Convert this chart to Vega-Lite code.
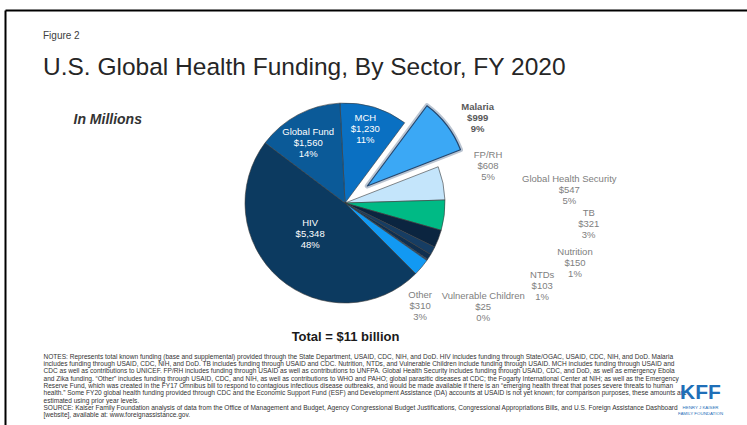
{
  "$schema": "https://vega.github.io/schema/vega-lite/v6.json",
  "autosize": "none",
  "width": 680,
  "height": 386,
  "padding": {"left": 5, "top": 10, "right": 62, "bottom": 29},
  "background": "white",
  "config": {"view": {"stroke": null}, "font": "Liberation Sans"},
  "title": {
    "text": "Figure 2",
    "subtitle": ["", "U.S. Global Health Funding, By Sector, FY 2020"],
    "orient": "none",
    "anchor": "start",
    "frame": "group",
    "baseline": "alphabetic",
    "dx": 38,
    "dy": 29,
    "fontSize": 10,
    "fontWeight": "normal",
    "color": "#404040",
    "subtitleFontSize": 24.5,
    "subtitleLineHeight": 35.5,
    "subtitleColor": "#262626",
    "subtitlePadding": 0
  },
  "data": {
    "values": [
      {"sector": "MCH", "value": 1230, "share": "11%", "rank": 1, "label": "MCH\n$1,230\n11%"},
      {"sector": "Malaria", "value": 999, "share": "9%", "rank": 2, "label": "Malaria\n$999\n9%"},
      {"sector": "FP/RH", "value": 608, "share": "5%", "rank": 3, "label": "FP/RH\n$608\n5%"},
      {"sector": "Global Health Security", "value": 547, "share": "5%", "rank": 4, "label": "Global Health Security\n$547\n5%"},
      {"sector": "TB", "value": 321, "share": "3%", "rank": 5, "label": "TB\n$321\n3%"},
      {"sector": "Nutrition", "value": 150, "share": "1%", "rank": 6, "label": "Nutrition\n$150\n1%"},
      {"sector": "NTDs", "value": 103, "share": "1%", "rank": 7, "label": "NTDs\n$103\n1%"},
      {"sector": "Vulnerable Children", "value": 25, "share": "0%", "rank": 8, "label": "Vulnerable Children\n$25\n0%"},
      {"sector": "Other", "value": 310, "share": "3%", "rank": 9, "label": "Other\n$310\n3%"},
      {"sector": "HIV", "value": 5348, "share": "48%", "rank": 10, "label": "HIV\n$5,348\n48%"},
      {"sector": "Global Fund", "value": 1560, "share": "14%", "rank": 11, "label": "Global Fund\n$1,560\n14%"}
    ]
  },
  "resolve": {"scale": {"x": "independent", "y": "independent"}, "axis": {"x": "independent", "y": "independent"}},
  "layer": [
    {
      "mark": {"type": "point", "opacity": 0},
      "encoding": {
        "x": {"datum": 0, "type": "quantitative", "scale": {"domain": [0, 1], "range": [0, 800]},
          "axis": {"orient": "top", "domainColor": "#000000", "domainWidth": 2, "ticks": false, "labels": false, "grid": false,
            "title": "In Millions", "titleX": 68, "titleY": 113, "titleAlign": "left", "titleAnchor": null, "titleBaseline": "alphabetic",
            "titleFontSize": 14, "titleFontWeight": "bold", "titleFontStyle": "italic", "titleColor": "#333333"}},
        "y": {"datum": 0, "type": "quantitative", "scale": {"domain": [0, 1], "range": [0, 500]},
          "axis": {"orient": "left", "domainColor": "#000000", "domainWidth": 2, "ticks": false, "labels": false, "grid": false,
            "title": "Total = $11 billion", "titleAngle": 0, "titleX": 340, "titleY": 330, "titleAlign": "center", "titleAnchor": null, "titleBaseline": "alphabetic",
            "titleFontSize": 13, "titleFontWeight": "bold", "titleColor": "#1a1a1a"}}
      }
    },
    {
      "mark": {"type": "point", "opacity": 0},
      "encoding": {
        "x": {"datum": 0, "type": "quantitative", "scale": {"domain": [0, 1]},
          "axis": {"orient": "bottom", "domain": false, "ticks": false, "labels": false, "grid": false,
            "title": [
              "NOTES: Represents total known funding (base and supplemental) provided through the State Department, USAID, CDC, NIH, and DoD. HIV includes funding through State/OGAC, USAID, CDC, NIH, and DoD. Malaria",
              "includes funding through USAID, CDC, NIH, and DoD. TB includes funding through USAID and CDC. Nutrition, NTDs, and Vulnerable Children include funding through USAID. MCH includes funding through USAID and",
              "CDC as well as contributions to UNICEF. FP/RH includes funding through USAID as well as contributions to UNFPA. Global Health Security includes funding through USAID, CDC, and DoD, as well as emergency Ebola",
              "and Zika funding. “Other” includes funding through USAID, CDC, and NIH, as well as contributions to WHO and PAHO; global parasitic diseases at CDC; the Fogarty International Center at NIH; as well as the Emergency",
              "Reserve Fund, which was created in the FY17 Omnibus bill to respond to contagious infectious disease outbreaks, and would be made available if there is an “emerging health threat that poses severe threats to human",
              "health.” Some FY20 global health funding provided through CDC and the Economic Support Fund (ESF) and Development Assistance (DA) accounts at USAID is not yet known; for comparison purposes, these amounts are",
              "estimated using prior year levels.",
              "SOURCE: Kaiser Family Foundation analysis of data from the Office of Management and Budget, Agency Congressional Budget Justifications, Congressional Appropriations Bills, and U.S. Foreign Assistance Dashboard",
              "[website], available at: www.foreignassistance.gov."
            ],
            "titleX": 38, "titleY": -43, "titleAlign": "left", "titleAnchor": null, "titleBaseline": "top",
            "titleFontSize": 6.55, "titleFontWeight": "normal", "titleLineHeight": 7.35, "titleColor": "#333333"}}
      }
    },
    {
      "mark": {"type": "point", "opacity": 0},
      "encoding": {
        "y": {"datum": 0, "type": "quantitative", "scale": {"domain": [0, 1]},
          "axis": {"orient": "right", "domain": false, "ticks": false, "grid": false, "values": [0],
            "labelExpr": "['HENRY J KAISER', 'FAMILY FOUNDATION']", "labelPadding": 15, "labelOffset": 11, "labelAlign": "center", "labelBaseline": "middle",
            "labelFontSize": 4.4, "labelLineHeight": 6, "labelColor": "#1f6fb8", "labelOverlap": false, "labelBound": false, "labelFlush": false,
            "title": "KFF", "titleAngle": 0, "titleX": 15, "titleY": 388, "titleAlign": "center", "titleAnchor": null, "titleBaseline": "alphabetic",
            "titleFontSize": 21, "titleFontWeight": "bold", "titleColor": "#1f6fb8"}}
      }
    },
    {
      "mark": {"type": "arc", "radius": 100, "stroke": "#3a3a3a", "strokeWidth": 0.6},
      "encoding": {
        "theta": {"field": "value", "type": "quantitative", "stack": true, "scale": {"range": [-0.0506, 6.2326]}},
        "order": {"field": "rank", "type": "quantitative"},
        "color": {"field": "sector", "type": "nominal", "legend": null,
          "scale": {
            "domain": ["MCH", "Malaria", "FP/RH", "Global Health Security", "TB", "Nutrition", "NTDs", "Vulnerable Children", "Other", "HIV", "Global Fund"],
            "range": ["#0a70c2", "#3ba8f5", "#c4e5fb", "#00ba85", "#0b2540", "#163d63", "#0f2f4f", "#2a4d73", "#1299f3", "#0c3a60", "#0b5a98"]}},
        "opacity": {"condition": {"test": "datum.sector === 'Malaria'", "value": 0}, "value": 1}
      }
    },
    {
      "mark": {"type": "arc", "radius": 100, "xOffset": 22.3, "yOffset": -17, "stroke": "#1c3d66", "strokeWidth": 5, "strokeOpacity": 0.3, "strokeJoin": "round", "fillOpacity": 0},
      "encoding": {
        "theta": {"field": "value", "type": "quantitative", "stack": true, "scale": {"range": [-0.0506, 6.2326]}},
        "order": {"field": "rank", "type": "quantitative"},
        "opacity": {"condition": {"test": "datum.sector === 'Malaria'", "value": 1}, "value": 0}
      }
    },
    {
      "mark": {"type": "arc", "radius": 100, "xOffset": 22.3, "yOffset": -17, "stroke": "#23466e", "strokeWidth": 1.2, "strokeJoin": "round"},
      "encoding": {
        "theta": {"field": "value", "type": "quantitative", "stack": true, "scale": {"range": [-0.0506, 6.2326]}},
        "order": {"field": "rank", "type": "quantitative"},
        "color": {"field": "sector", "type": "nominal", "legend": null},
        "opacity": {"condition": {"test": "datum.sector === 'Malaria'", "value": 1}, "value": 0}
      }
    },
    {
      "mark": {"type": "text", "radius": 77, "dx": -2, "dy": -11, "lineBreak": "\n", "fontSize": 9.5, "lineHeight": 11, "align": "center", "baseline": "middle", "color": "#ffffff"},
      "encoding": {
        "theta": {"field": "value", "type": "quantitative", "stack": true, "scale": {"range": [-0.0506, 6.2326]}},
        "order": {"field": "rank", "type": "quantitative"},
        "text": {"condition": {"test": "datum.sector === 'MCH'", "field": "label"}, "value": ""}
      }
    },
    {
      "mark": {"type": "text", "radius": 70, "dx": -4, "dy": -9, "lineBreak": "\n", "fontSize": 9.5, "lineHeight": 11, "align": "center", "baseline": "middle", "color": "#ffffff"},
      "encoding": {
        "theta": {"field": "value", "type": "quantitative", "stack": true, "scale": {"range": [-0.0506, 6.2326]}},
        "order": {"field": "rank", "type": "quantitative"},
        "text": {"condition": {"test": "datum.sector === 'Global Fund'", "field": "label"}, "value": ""}
      }
    },
    {
      "mark": {"type": "text", "radius": 47, "dx": -4, "dy": -15.5, "lineBreak": "\n", "fontSize": 9.5, "lineHeight": 11, "align": "center", "baseline": "middle", "color": "#ffffff"},
      "encoding": {
        "theta": {"field": "value", "type": "quantitative", "stack": true, "scale": {"range": [-0.0506, 6.2326]}},
        "order": {"field": "rank", "type": "quantitative"},
        "text": {"condition": {"test": "datum.sector === 'HIV'", "field": "label"}, "value": ""}
      }
    },
    {
      "mark": {"type": "text", "radius": 158, "dx": 7, "dy": 0, "lineBreak": "\n", "fontSize": 9.5, "lineHeight": 11, "align": "center", "baseline": "middle", "color": "#595959", "fontWeight": "bold"},
      "encoding": {
        "theta": {"field": "value", "type": "quantitative", "stack": true, "scale": {"range": [-0.0506, 6.2326]}},
        "order": {"field": "rank", "type": "quantitative"},
        "text": {"condition": {"test": "datum.sector === 'Malaria'", "field": "label"}, "value": ""}
      }
    },
    {
      "mark": {"type": "text", "radius": 148, "dx": -2, "dy": -18.5, "lineBreak": "\n", "fontSize": 9.5, "lineHeight": 11, "align": "center", "baseline": "middle", "color": "#808080"},
      "encoding": {
        "theta": {"field": "value", "type": "quantitative", "stack": true, "scale": {"range": [-0.0506, 6.2326]}},
        "order": {"field": "rank", "type": "quantitative"},
        "text": {"condition": {"test": "datum.sector === 'FP/RH'", "field": "label"}, "value": ""}
      }
    },
    {
      "mark": {"type": "text", "radius": 224, "dx": 2, "dy": -52, "lineBreak": "\n", "fontSize": 9.5, "lineHeight": 11, "align": "center", "baseline": "middle", "color": "#808080"},
      "encoding": {
        "theta": {"field": "value", "type": "quantitative", "stack": true, "scale": {"range": [-0.0506, 6.2326]}},
        "order": {"field": "rank", "type": "quantitative"},
        "text": {"condition": {"test": "datum.sector === 'Global Health Security'", "field": "label"}, "value": ""}
      }
    },
    {
      "mark": {"type": "text", "radius": 245, "dx": 15, "dy": -78, "lineBreak": "\n", "fontSize": 9.5, "lineHeight": 11, "align": "center", "baseline": "middle", "color": "#808080"},
      "encoding": {
        "theta": {"field": "value", "type": "quantitative", "stack": true, "scale": {"range": [-0.0506, 6.2326]}},
        "order": {"field": "rank", "type": "quantitative"},
        "text": {"condition": {"test": "datum.sector === 'TB'", "field": "label"}, "value": ""}
      }
    },
    {
      "mark": {"type": "text", "radius": 238, "dx": 21, "dy": -65, "lineBreak": "\n", "fontSize": 9.5, "lineHeight": 11, "align": "center", "baseline": "middle", "color": "#808080"},
      "encoding": {
        "theta": {"field": "value", "type": "quantitative", "stack": true, "scale": {"range": [-0.0506, 6.2326]}},
        "order": {"field": "rank", "type": "quantitative"},
        "text": {"condition": {"test": "datum.sector === 'Nutrition'", "field": "label"}, "value": ""}
      }
    },
    {
      "mark": {"type": "text", "radius": 214, "dx": 17, "dy": -43, "lineBreak": "\n", "fontSize": 9.5, "lineHeight": 11, "align": "center", "baseline": "middle", "color": "#808080"},
      "encoding": {
        "theta": {"field": "value", "type": "quantitative", "stack": true, "scale": {"range": [-0.0506, 6.2326]}},
        "order": {"field": "rank", "type": "quantitative"},
        "text": {"condition": {"test": "datum.sector === 'NTDs'", "field": "label"}, "value": ""}
      }
    },
    {
      "mark": {"type": "text", "radius": 173, "dx": -4, "dy": -5.5, "lineBreak": "\n", "fontSize": 9.5, "lineHeight": 11, "align": "center", "baseline": "middle", "color": "#808080"},
      "encoding": {
        "theta": {"field": "value", "type": "quantitative", "stack": true, "scale": {"range": [-0.0506, 6.2326]}},
        "order": {"field": "rank", "type": "quantitative"},
        "text": {"condition": {"test": "datum.sector === 'Vulnerable Children'", "field": "label"}, "value": ""}
      }
    },
    {
      "mark": {"type": "text", "radius": 127, "dx": -22, "dy": 10, "lineBreak": "\n", "fontSize": 9.5, "lineHeight": 11, "align": "center", "baseline": "middle", "color": "#808080"},
      "encoding": {
        "theta": {"field": "value", "type": "quantitative", "stack": true, "scale": {"range": [-0.0506, 6.2326]}},
        "order": {"field": "rank", "type": "quantitative"},
        "text": {"condition": {"test": "datum.sector === 'Other'", "field": "label"}, "value": ""}
      }
    }
  ]
}
